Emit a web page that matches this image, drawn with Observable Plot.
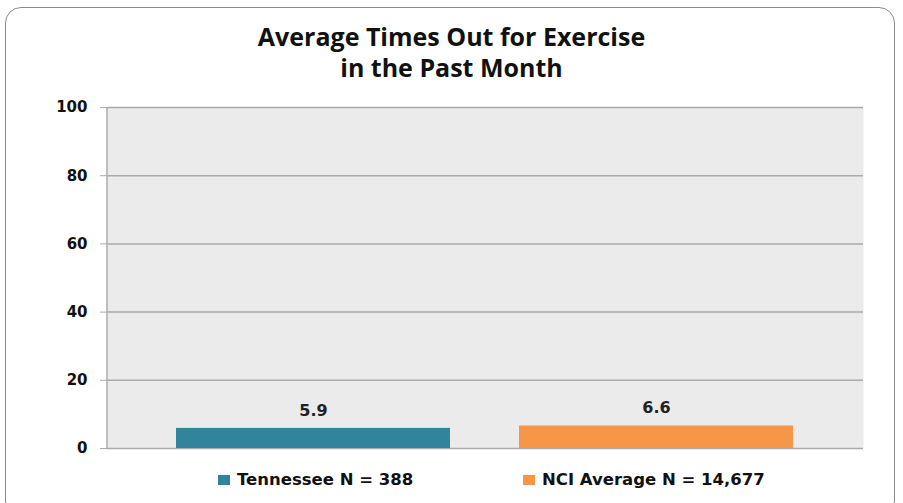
<!DOCTYPE html>
<html>
<head>
<meta charset="utf-8">
<script src="https://cdn.jsdelivr.net/npm/d3@7"></script>
<script src="https://cdn.jsdelivr.net/npm/@observablehq/plot@0.6"></script>
<style>
  body { margin: 0; background: #fff; }
  #wrap { position: relative; width: 903px; height: 503px; overflow: hidden; }
  #frame { position: absolute; left: 5px; top: 7px; width: 890px; height: 510px; border: 1.5px solid #8c8c8c; border-radius: 16px; box-sizing: border-box; }
  #title { position: absolute; left: 0; width: 903px; top: 21px; text-align: center; font-family: "Open Sans", sans-serif; font-weight: bold; font-size: 25px; line-height: 31px; color: #111; }
  #chart { position: absolute; left: 0; top: 0; }
  #legend { position: absolute; top: 470px; left: 0; width: 903px; font-family: "DejaVu Sans", Verdana, sans-serif; font-weight: bold; font-size: 16.5px; color: #111; }
  .item { position: absolute; display: flex; align-items: center; white-space: nowrap; }
  .sw { width: 12px; height: 10px; margin-right: 7px; }
</style>
</head>
<body>
<div id="wrap">
  <div id="frame"></div>
  <div id="title">Average Times Out for Exercise<br>in the Past Month</div>
  <div id="chart"></div>
  <div id="legend"></div>
</div>
<script>
const categories = ["Tennessee N = 388", "NCI Average N = 14,677"];
const values = [5.9, 6.6];
const colors = ["#31849b", "#f79646"];
const yTicks = [0, 20, 40, 60, 80, 100];

const data = categories.map((c, i) => ({category: c, value: values[i], color: colors[i]}));

const chart = Plot.plot({
  width: 903,
  height: 470,
  marginTop: 107,
  marginBottom: 22,
  marginLeft: 107,
  marginRight: 40,
  style: {background: "transparent", overflow: "visible"},
  x: {domain: categories, padding: 0.2, axis: null},
  y: {domain: [0, 100], ticks: yTicks, label: null},
  marks: [
    Plot.frame({fill: "#ebebeb", stroke: null}),
    Plot.ruleY(yTicks, {stroke: "#aaaaaa", strokeWidth: 1.5}),
    Plot.barY(data, {x: "category", y: "value", fill: "color"}),
    Plot.text(data, {x: "category", y: "value", text: d => d.value.toFixed(1), dy: -18, fontSize: 16, fontWeight: "bold", fill: "#222", fontFamily: "DejaVu Sans, Verdana, sans-serif"}),
    Plot.axisY({ticks: yTicks, tickSize: 7, tickPadding: 13, stroke: "#aaaaaa", fontSize: 15, fontWeight: "bold", fill: "#111", fontFamily: "DejaVu Sans, Verdana, sans-serif", label: null})
  ]
});
document.getElementById("chart").appendChild(chart);
// left axis line
d3.select(chart).append("line").attr("x1", 107).attr("x2", 107).attr("y1", 107).attr("y2", 448).attr("stroke", "#aaaaaa").attr("stroke-width", 1.5);

const legend = document.getElementById("legend");
const lefts = [218, 523];
categories.forEach((c, i) => {
  const it = document.createElement("div");
  it.className = "item";
  it.style.left = lefts[i] + "px";
  it.innerHTML = `<span class="sw" style="background:${colors[i]}"></span><span>${c}</span>`;
  legend.appendChild(it);
});
</script>
</body>
</html>
